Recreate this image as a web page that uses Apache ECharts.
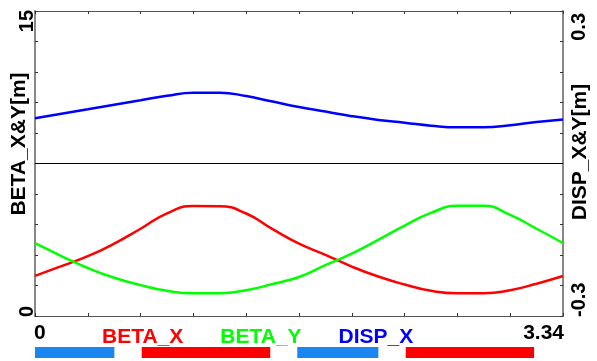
<!DOCTYPE html>
<html>
<head>
<meta charset="utf-8">
<script src="https://cdn.jsdelivr.net/npm/echarts@6/dist/echarts.min.js"></script>
<style>
  html, body { margin: 0; padding: 0; background: #fff; }
  #chart { width: 597px; height: 361px; }
</style>
</head>
<body>
<div id="chart"></div>
<script>
// Lattice cell optics: beta functions (left axis) and horizontal dispersion (right axis)
const sPos = [0, 0.167, 0.334, 0.501, 0.668, 0.835, 1.002, 1.169, 1.336, 1.503, 1.67,
              1.837, 2.004, 2.171, 2.338, 2.505, 2.672, 2.839, 3.006, 3.173, 3.34];
const betaX = [1.97, 2.45, 2.94, 3.56, 4.29, 5.05, 5.41, 5.40, 5.04, 4.27, 3.56,
               3.01, 2.43, 1.94, 1.55, 1.24, 1.12, 1.12, 1.27, 1.59, 1.97];
const betaY = [3.58, 2.95, 2.36, 1.88, 1.52, 1.24, 1.12, 1.12, 1.27, 1.57, 1.92,
               2.50, 3.07, 3.74, 4.45, 5.07, 5.42, 5.42, 4.97, 4.29, 3.59];
const dispX = [0.0889, 0.0978, 0.1066, 0.1155, 0.1243, 0.1332, 0.1393, 0.1393, 0.1326, 0.1218, 0.1112,
               0.1021, 0.0931, 0.0858, 0.0803, 0.0744, 0.0712, 0.0712, 0.0752, 0.0816, 0.0866];

// Magnet layout along the cell
const elemStart = [0, 0.675, 1.659, 2.345];
const elemEnd   = [0.502, 1.488, 2.172, 3.157];
const elemKind  = ['bend', 'quad', 'bend', 'quad'];

// Axis range labels
const sTickVals = [0, 3.34];
const sTickText = ['0', '3.34'];
const betaTickVals = [0, 15];
const betaTickText = ['0', '15'];
const dispTickVals = [-0.3, 0.3];
const dispTickText = ['-0.3', '0.3'];
const betaAxisName = 'BETA_X&Y[m]';
const dispAxisName = 'DISP_X&Y[m]';

const FONT = 'Liberation Sans, Arial, sans-serif';
const kindColor = { bend: '#1a86f2', quad: '#ff0000' };
const pairs = arr => arr.map((v, i) => [sPos[i], v]);

const chart = echarts.init(document.getElementById('chart'), null, { renderer: 'canvas' });

const tickStyle = { show: true, inside: true, length: 3, lineStyle: { color: '#333', width: 1 } };

chart.setOption({
  animation: false,
  backgroundColor: '#fff',
  grid: [
    { left: 35, right: 34, top: 11, bottom: 45, containLabel: false },
    { left: 35, right: 34, top: 347, height: 11, containLabel: false }
  ],
  legend: {
    left: 92, top: 322, itemGap: 32, itemWidth: 0, itemHeight: 20, icon: 'none',
    selectedMode: false,
    textStyle: { fontFamily: FONT, fontSize: 21, fontWeight: 'bold' },
    data: [
      { name: 'BETA_X', textStyle: { color: '#ff0000' } },
      { name: 'BETA_Y', textStyle: { color: '#00ff00' } },
      { name: 'DISP_X', textStyle: { color: '#0000ff' } }
    ]
  },
  xAxis: [
    { type: 'value', gridIndex: 0, position: 'bottom', min: 0, max: 3.34, interval: 0.334,
      axisLine: { show: true, onZero: false, lineStyle: { color: '#555', width: 1 } },
      axisTick: tickStyle, axisLabel: { show: false }, splitLine: { show: false } },
    { type: 'value', gridIndex: 0, position: 'top', min: 0, max: 3.34, interval: 0.334,
      axisLine: { show: true, onZero: false, lineStyle: { color: '#555', width: 1 } },
      axisTick: tickStyle, axisLabel: { show: false }, splitLine: { show: false } },
    { type: 'value', gridIndex: 1, min: 0, max: 3.34, show: false }
  ],
  yAxis: [
    { type: 'value', gridIndex: 0, position: 'left', min: 0, max: 15, interval: 1.5,
      axisLine: { show: true, onZero: false, lineStyle: { color: '#888', width: 2 } },
      axisTick: tickStyle, axisLabel: { show: false }, splitLine: { show: false } },
    { type: 'value', gridIndex: 0, position: 'right', min: -0.3, max: 0.3, interval: 0.06,
      axisLine: { show: true, onZero: false, lineStyle: { color: '#888', width: 2 } },
      axisTick: tickStyle, axisLabel: { show: false }, splitLine: { show: false } },
    { type: 'value', gridIndex: 1, min: 0, max: 1, show: false }
  ],
  series: [
    { name: 'DISP_X', type: 'line', xAxisIndex: 0, yAxisIndex: 1, data: pairs(dispX),
      smooth: 0.5, showSymbol: false, lineStyle: { color: '#0000ff', width: 2.5 },
      itemStyle: { color: '#0000ff' }, z: 3,
      markLine: { silent: true, symbol: 'none', label: { show: false },
        lineStyle: { color: '#000', width: 1, type: 'solid' }, data: [{ yAxis: 0 }] } },
    { name: 'BETA_X', type: 'line', xAxisIndex: 0, yAxisIndex: 0, data: pairs(betaX),
      smooth: 0.5, showSymbol: false, lineStyle: { color: '#ff0000', width: 2.5 },
      itemStyle: { color: '#ff0000' }, z: 3 },
    { name: 'BETA_Y', type: 'line', xAxisIndex: 0, yAxisIndex: 0, data: pairs(betaY),
      smooth: 0.5, showSymbol: false, lineStyle: { color: '#00ff00', width: 2.5 },
      itemStyle: { color: '#00ff00' }, z: 4 },
    { name: 'lattice', type: 'custom', xAxisIndex: 2, yAxisIndex: 2, silent: true,
      data: elemStart.map((s, i) => [s, elemEnd[i], i]),
      renderItem: function (params, api) {
        const p0 = api.coord([api.value(0), 0]);
        const p1 = api.coord([api.value(1), 1]);
        const kind = elemKind[api.value(2)];
        return { type: 'rect',
          shape: { x: p0[0], y: p1[1], width: p1[0] - p0[0], height: p0[1] - p1[1] },
          style: { fill: kindColor[kind] } };
      } }
  ]
});

// Rotated range labels and axis names placed through the axis scales
const xPix = v => chart.convertToPixel({ xAxisIndex: 0 }, v);
const yBeta = v => chart.convertToPixel({ yAxisIndex: 0 }, v);
const yDisp = v => chart.convertToPixel({ yAxisIndex: 1 }, v);
const lblStyle = { fontFamily: FONT, fontSize: 20, fontWeight: 'bold', fill: '#000' };
const graphics = [];

betaTickVals.forEach((v, i) => {
  const atTop = i === betaTickVals.length - 1;
  graphics.push({ type: 'text', x: 27, y: yBeta(v) + (atTop ? -1 : 1), rotation: Math.PI / 2,
    style: Object.assign({}, lblStyle, { text: betaTickText[i], align: atTop ? 'right' : 'left', verticalAlign: 'middle' }) });
});
dispTickVals.forEach((v, i) => {
  const atTop = i === dispTickVals.length - 1;
  graphics.push({ type: 'text', x: 579, y: yDisp(v) + (atTop ? 2 : 1), rotation: Math.PI / 2,
    style: Object.assign({}, lblStyle, { text: dispTickText[i], align: atTop ? 'right' : 'left', verticalAlign: 'middle' }) });
});
sTickVals.forEach((v, i) => {
  const atEnd = i === sTickVals.length - 1;
  graphics.push({ type: 'text', x: xPix(v) + (atEnd ? 1 : -1), y: 333,
    style: Object.assign({}, lblStyle, { text: sTickText[i], fontSize: 21, align: atEnd ? 'right' : 'left', verticalAlign: 'middle' }) });
});
graphics.push({ type: 'text', x: 19, y: 144, rotation: Math.PI / 2,
  style: Object.assign({}, lblStyle, { text: betaAxisName, fontSize: 21, align: 'center', verticalAlign: 'middle' }) });
graphics.push({ type: 'text', x: 580, y: 152, rotation: Math.PI / 2,
  style: Object.assign({}, lblStyle, { text: dispAxisName, fontSize: 21, align: 'center', verticalAlign: 'middle' }) });

chart.setOption({ graphic: graphics });
</script>
</body>
</html>
